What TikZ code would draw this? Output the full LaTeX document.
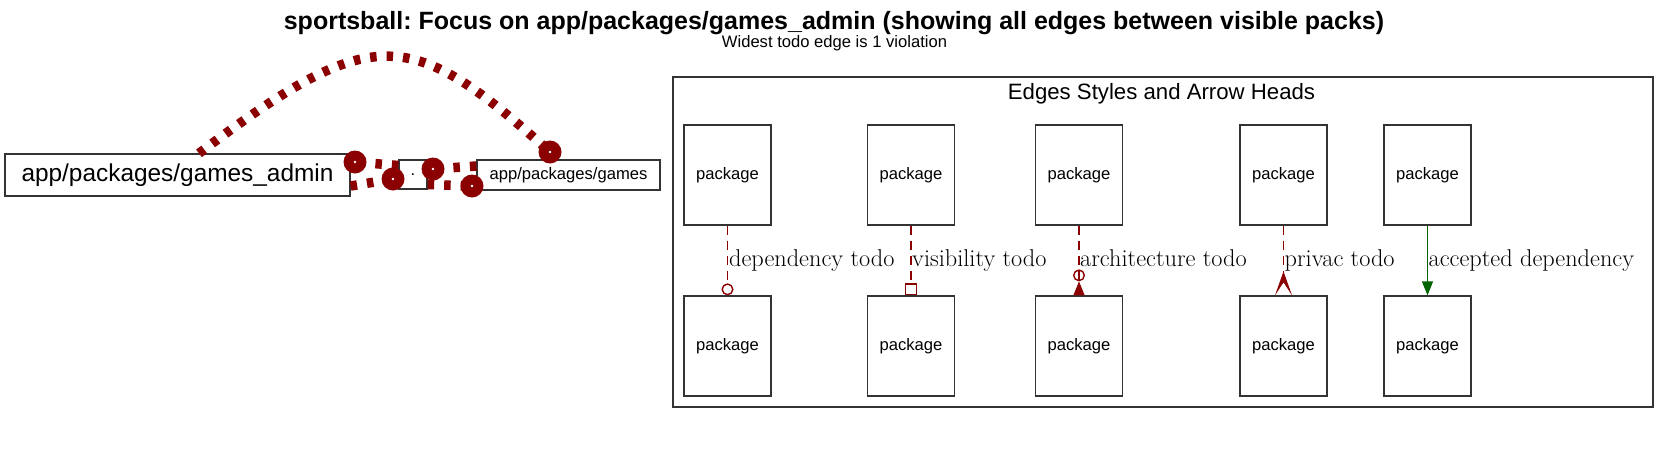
\documentclass[tikz,border=0pt]{standalone}
\usepackage{fontspec}
\setsansfont{Liberation Sans}
\usepackage{tikz}
\usetikzlibrary{arrows.meta,positioning,calc}
\definecolor{todored}{HTML}{8B0000}
\definecolor{okgreen}{HTML}{006400}
\definecolor{boxgray}{HTML}{333333}
\frenchspacing

\begin{document}
\begin{tikzpicture}[x=1pt,y=-1pt,
  pack/.style={draw=boxgray,line width=1.3pt,inner sep=0pt,font=\sffamily\fontsize{16.6}{20}\selectfont},
  legendpack/.style={pack,minimum width=87pt,minimum height=100pt},
  todo/.style={todored,line width=9.5pt,dash pattern=on 6.5pt off 10pt},
  legendtodo/.style={todored,line width=1.4pt,dash pattern=on 9pt off 6pt},
  lbl/.style={anchor=base west,inner sep=0pt,font=\fontsize{24.3}{28}\selectfont}]
  \useasboundingbox (0,0) rectangle (1669,453);
  % titles
  \node[anchor=base,font=\sffamily\bfseries\fontsize{25}{30}\selectfont] (title) at (834,29)
    {sportsball: Focus on app/packages/games\_admin (showing all edges between visible packs)};
  \node[anchor=base,font=\sffamily\fontsize{16.6}{20}\selectfont] (subtitle) at (834.5,47)
    {Widest todo edge is 1 violation};
  % packs
  \node[pack,minimum width=345pt,minimum height=42pt,font=\sffamily\fontsize{24.4}{29}\selectfont]
    (admin) at (177.5,175) {app/packages/games\_admin};
  \node[pack,minimum width=28pt,minimum height=29pt] (root) at (413,174.5) {.};
  \node[pack,minimum width=183pt,minimum height=30pt] (games) at (568.5,175) {app/packages/games};
  % todo edges, heads are the dots
  \coordinate (hA) at (393,179);
  \coordinate (hB) at (355,162);
  \coordinate (hC) at (472,186);
  \coordinate (hD) at (433,169);
  \coordinate (hE) at (550,152);
  \draw[todo] ([yshift=-11pt]admin.east) -- (hA);
  \draw[todo] ([yshift=9pt]root.west) -- (hB);
  \draw[todo] ([yshift=-10pt]root.east) -- (hC);
  \draw[todo] ([yshift=9pt]games.west) -- (hD);
  \draw[todo] ([xshift=21.5pt]admin.north) .. controls (374,21) and (411,27) .. (hE);
  \foreach \h in {hA,hB,hC,hD,hE} {
    \fill[todored] (\h) circle[radius=11.5pt];
    \fill[white] (\h) circle[radius=1.3pt];
  }
  % legend
  \node[pack,minimum width=980pt,minimum height=330pt] (legend) at (1163,242) {};
  \node[anchor=base,font=\sffamily\fontsize{22.2}{26}\selectfont] (legendtitle) at (1161.5,99)
    {Edges Styles and Arrow Heads};
  \foreach \x [count=\i] in {727.5,911,1079,1283.5,1427.5} {
    \node[legendpack] (top\i) at (\x,175) {package};
    \node[legendpack] (bot\i) at (\x,346) {package};
  }
  \draw[legendtodo,-{Circle[open,length=12pt,width=12pt]}] (top1) -- (bot1);
  \draw[legendtodo,-{Square[open,length=12pt,width=12pt]}] (top2) -- (bot2);
  \draw[legendtodo,-{Circle[open,length=12pt,width=12pt]Triangle[reversed,length=14pt,width=11pt]}] (top3) -- (bot3);
  \draw[legendtodo,-{Stealth[reversed,length=24pt,width=17pt,inset=13pt]}] (top4) -- (bot4);
  \draw[okgreen,line width=1.4pt,-{Triangle[length=14pt,width=11pt]}] (top5) -- (bot5);
  \node[lbl] (dep) at (729,266) {dependency todo};
  \node[lbl] (vis) at (912,266) {visibility todo};
  \node[lbl] (arch) at (1080,266) {architecture todo};
  \node[lbl] (priv) at (1284.5,266) {privac todo};
  \node[lbl] (acc) at (1428.5,266) {accepted dependency};
\end{tikzpicture}
\end{document}
